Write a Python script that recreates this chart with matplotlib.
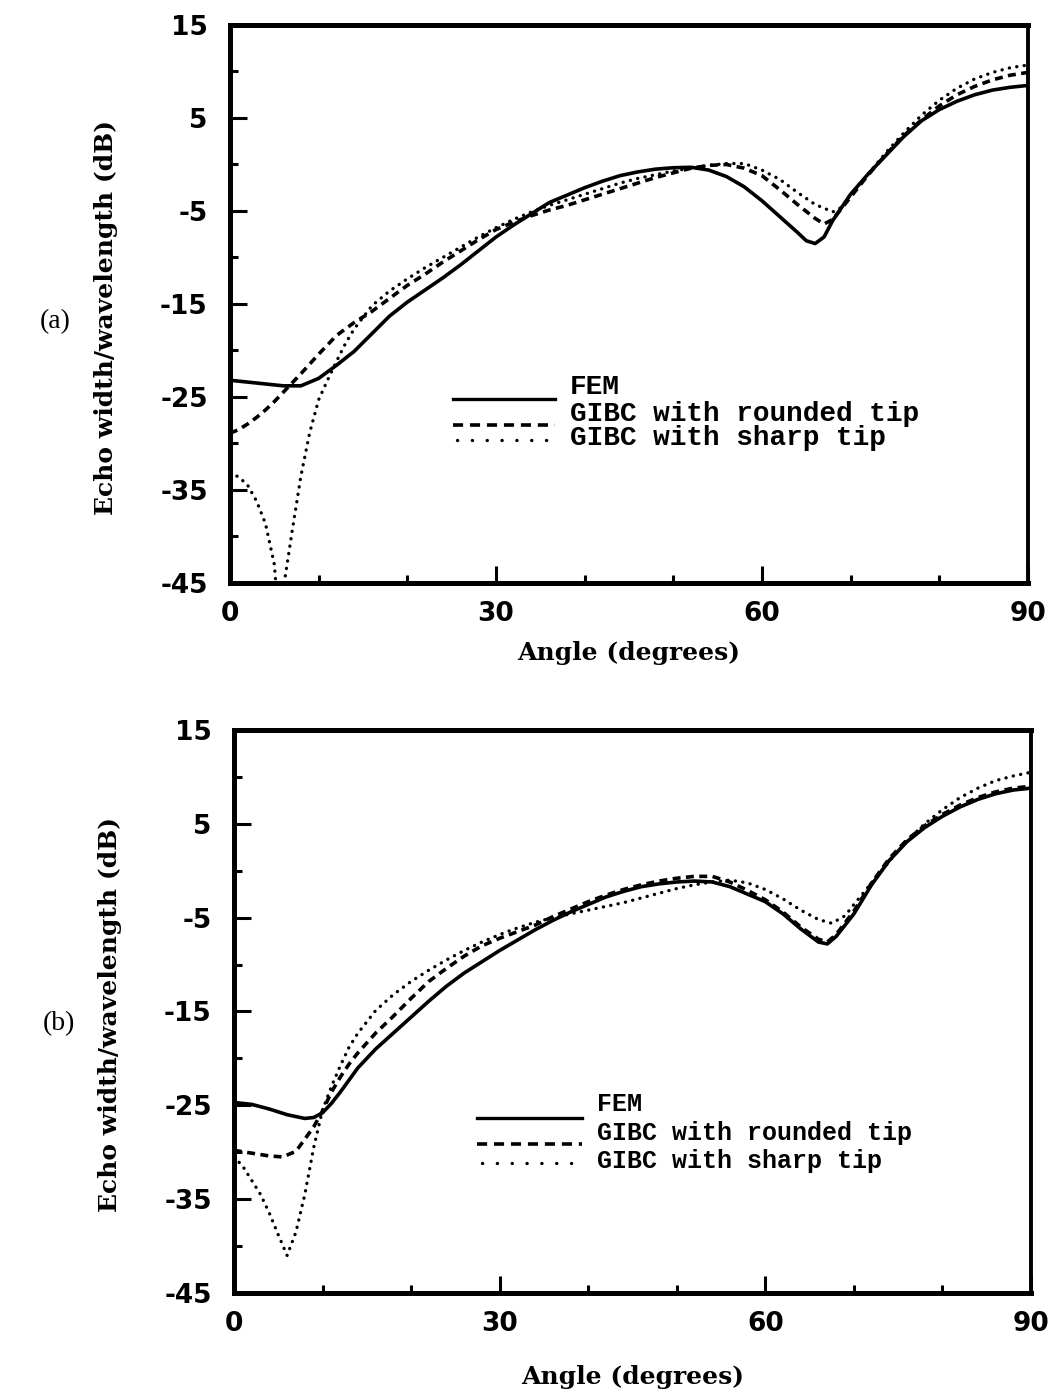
import matplotlib.pyplot as plt
from matplotlib.ticker import MultipleLocator

plt.rcParams['axes.unicode_minus'] = False

# ---- panel (a) data, angle in degrees, echo width in dB ----
a_fem_x = [0, 2, 4, 6, 8, 10, 12, 14, 16, 18, 20, 22, 24, 26, 28, 30, 32, 34, 36, 38, 40, 42, 44, 46, 48,
           50, 52, 54, 56, 58, 60, 62, 64, 65, 66, 67, 68, 70, 72, 74, 76, 78, 80, 82, 84, 86, 88, 90]
a_fem_y = [-23.2, -23.4, -23.6, -23.8, -23.8, -23.0, -21.6, -20.1, -18.2, -16.3, -14.8, -13.5, -12.2, -10.8,
           -9.3, -7.8, -6.5, -5.3, -4.1, -3.3, -2.5, -1.8, -1.2, -0.8, -0.5, -0.35, -0.3, -0.6, -1.3, -2.4,
           -3.9, -5.6, -7.3, -8.2, -8.5, -7.8, -6.0, -3.2, -1.0, 1.0, 3.0, 4.7, 5.9, 6.8, 7.5, 8.0, 8.3, 8.5]

a_round_x = [0, 1, 2, 3, 4, 5, 6, 7, 8, 10, 12, 14, 16, 18, 20, 22, 24, 26, 28, 30, 32, 34, 36, 38, 40, 42,
             44, 46, 48, 50, 52, 54, 56, 58, 60, 62, 64, 66, 67, 68, 70, 72, 74, 76, 78, 80, 82, 84, 86, 88, 90]
a_round_y = [-28.9, -28.5, -27.9, -27.2, -26.4, -25.5, -24.5, -23.5, -22.5, -20.4, -18.4, -17.0, -15.8,
             -14.4, -13.0, -11.8, -10.5, -9.3, -8.1, -7.0, -6.2, -5.5, -4.9, -4.4, -3.8, -3.2, -2.6, -2.0,
             -1.4, -0.9, -0.4, -0.1, 0.0, -0.4, -1.2, -2.7, -4.3, -5.8, -6.4, -5.9, -3.5, -1.1, 1.1, 3.1,
             4.8, 6.3, 7.5, 8.4, 9.1, 9.6, 9.9]

a_sharp_x = [0, 1, 2, 3, 4, 5, 5.6, 6.2, 7, 8, 9, 10, 11, 12, 13, 14, 16, 18, 20, 22, 24, 26, 28, 30, 32,
             34, 36, 38, 40, 42, 44, 46, 48, 50, 52, 54, 56, 58, 60, 62, 64, 66, 68, 69, 70, 72, 74, 76, 78,
             80, 82, 84, 86, 88, 90]
a_sharp_y = [-33.2, -33.6, -34.5, -36.2, -38.6, -43.0, -50.0, -44.5, -39.5, -33.5, -28.8, -25.3, -23.2,
             -21.2, -19.3, -17.7, -15.2, -13.6, -12.3, -11.1, -10.0, -8.9, -7.8, -6.8, -5.9, -5.1, -4.4,
             -3.8, -3.2, -2.6, -2.0, -1.5, -1.1, -0.7, -0.4, -0.1, 0.1, 0.1, -0.6, -1.6, -3.0, -4.3, -5.1,
             -4.6, -3.2, -1.0, 1.3, 3.4, 5.3, 6.9, 8.2, 9.2, 9.9, 10.4, 10.7]

# ---- panel (b) data ----
b_fem_x = [0, 2, 4, 6, 8, 9, 10, 11, 12, 13, 14, 16, 18, 20, 22, 24, 26, 28, 30, 32, 34, 36, 38, 40, 42,
           44, 46, 48, 50, 52, 54, 56, 58, 60, 62, 64, 66, 67, 68, 70, 72, 74, 76, 78, 80, 82, 84, 86, 88, 90]
b_fem_y = [-24.7, -24.9, -25.4, -26.0, -26.4, -26.3, -25.8, -24.8, -23.6, -22.3, -21.0, -19.0, -17.3,
           -15.6, -13.9, -12.3, -10.9, -9.7, -8.5, -7.4, -6.3, -5.3, -4.4, -3.6, -2.8, -2.2, -1.7, -1.4,
           -1.2, -1.1, -1.2, -1.7, -2.5, -3.3, -4.6, -6.2, -7.6, -7.8, -7.0, -4.6, -1.5, 1.1, 3.1, 4.6,
           5.8, 6.8, 7.6, 8.2, 8.6, 8.8]

b_round_x = [0, 2, 4, 5.5, 7, 8, 9, 10, 11, 12, 13, 14, 16, 18, 20, 22, 24, 26, 28, 30, 32, 34, 36, 38,
             40, 42, 44, 46, 48, 50, 52, 54, 56, 58, 60, 62, 64, 66, 67, 68, 70, 72, 74, 76, 78, 80, 82, 84,
             86, 88, 90]
b_round_y = [-29.8, -30.1, -30.4, -30.5, -29.9, -28.6, -27.3, -25.6, -23.6, -22.0, -20.6, -19.4, -17.3,
             -15.5, -13.6, -11.8, -10.4, -9.1, -8.0, -7.2, -6.5, -5.8, -4.9, -4.1, -3.3, -2.6, -2.0, -1.5,
             -1.1, -0.8, -0.6, -0.6, -1.2, -2.1, -3.1, -4.4, -6.0, -7.3, -7.6, -6.8, -4.3, -1.3, 1.3, 3.3,
             4.8, 6.0, 7.0, 7.8, 8.4, 8.8, 9.0]

b_sharp_x = [0, 1, 2, 3, 4, 5, 6, 7, 8, 9, 10, 11, 12, 13, 14, 16, 18, 20, 22, 24, 26, 28, 30, 32, 34, 36,
             38, 40, 42, 44, 46, 48, 50, 52, 54, 56, 58, 60, 62, 64, 66, 67.5, 69, 70, 72, 74, 76, 78, 80,
             82, 84, 86, 88, 90]
b_sharp_y = [-30.5, -31.5, -33.0, -34.5, -36.5, -38.8, -41.0, -38.5, -34.5, -29.5, -25.5, -23.0, -20.8,
             -18.8, -17.3, -14.9, -13.2, -11.8, -10.6, -9.5, -8.5, -7.6, -6.8, -6.1, -5.5, -5.0, -4.6,
             -4.2, -3.8, -3.4, -2.9, -2.4, -1.9, -1.5, -1.2, -1.0, -1.3, -2.0, -3.0, -4.2, -5.2, -5.6,
             -4.8, -3.6, -1.3, 1.0, 3.2, 5.0, 6.5, 7.8, 8.8, 9.6, 10.1, 10.5]

x_ticks = [0, 30, 60, 90]
y_ticks = [-45, -35, -25, -15, -5, 5, 15]
legend_labels = ['FEM', 'GIBC with rounded tip', 'GIBC with sharp tip']

solid = dict(color='black', lw=2.6, ls='-')
dashed = dict(color='black', lw=2.6, ls=(0, (2.2, 1.5)))
dotted = dict(color='black', lw=2.4, ls=(0, (0.05, 2.2)), dash_capstyle='round')


def draw_panel(ax, fem, rnd, shp, leg, leg_size, tag, tag_y, ylab_y, xlab_y):
    ax.plot(fem[0], fem[1], **solid)
    ax.plot(rnd[0], rnd[1], **dashed)
    ax.plot(shp[0], shp[1], **dotted)

    ax.set_xlim(0, 90)
    ax.set_ylim(-45, 15)
    ax.set_xticks(x_ticks)
    ax.set_yticks(y_ticks)
    ax.xaxis.set_minor_locator(MultipleLocator(10))
    ax.yaxis.set_minor_locator(MultipleLocator(5))
    ax.tick_params(which='both', direction='in', top=False, right=False, width=2.2)
    ax.tick_params(which='major', length=12)
    ax.tick_params(which='minor', length=6)
    ax.tick_params(axis='y', which='major', pad=16)
    ax.tick_params(axis='x', which='major', pad=13)
    for lab in ax.get_xticklabels() + ax.get_yticklabels():
        lab.set_fontsize(19)
        lab.set_fontweight('bold')
        lab.set_family('DejaVu Sans')
    for s in ['top', 'left', 'bottom']:
        ax.spines[s].set_linewidth(3.6)
    ax.spines['right'].set_linewidth(2.8)

    ax.set_xlabel('Angle (degrees)', fontsize=18, fontweight='bold', family='DejaVu Serif')
    ax.xaxis.set_label_coords(0.5, xlab_y)
    ax.set_ylabel('Echo width/wavelength (dB)', fontsize=18, fontweight='bold', family='DejaVu Serif')
    ax.yaxis.set_label_coords(-0.14, ylab_y)

    # hand-made legend like the original
    lx0, lx1, tx, ys, yt = leg
    ax.plot([lx0, lx1], [ys[0], ys[0]], color='black', lw=2.4, transform=ax.transAxes)
    ax.plot([lx0, lx1], [ys[1], ys[1]], color='black', lw=2.6, ls=(0, (2.8, 1.9)), transform=ax.transAxes)
    ax.plot([lx0 + 0.006, lx1], [ys[2], ys[2]], color='black', lw=2.4, ls=(0, (0.05, 4.4)),
            dash_capstyle='round', transform=ax.transAxes)
    for t, y in zip(legend_labels, yt):
        ax.text(tx, y, t, transform=ax.transAxes, fontsize=leg_size, fontweight='bold',
                family='Liberation Mono', va='center', ha='left')

    ax.text(-0.219, tag_y, tag, transform=ax.transAxes, fontsize=20,
            family='Liberation Serif', va='center', ha='center')


fig = plt.figure(figsize=(10.53, 13.96), dpi=100)
ax1 = fig.add_axes([0.2184, 0.5824, 0.7578, 0.3997])
ax2 = fig.add_axes([0.2222, 0.0738, 0.7569, 0.4033])

draw_panel(ax1, (a_fem_x, a_fem_y), (a_round_x, a_round_y), (a_sharp_x, a_sharp_y),
           (0.279, 0.407, 0.426, [0.330, 0.283, 0.256], [0.351, 0.303, 0.260]), 20,
           '(a)', 0.469, 0.475, -0.104)
draw_panel(ax2, (b_fem_x, b_fem_y), (b_round_x, b_round_y), (b_sharp_x, b_sharp_y),
           (0.305, 0.437, 0.455, [0.311, 0.265, 0.231], [0.336, 0.284, 0.234]), 18,
           '(b)', 0.478, 0.494, -0.128)

fig.savefig('out.png', dpi=100)
